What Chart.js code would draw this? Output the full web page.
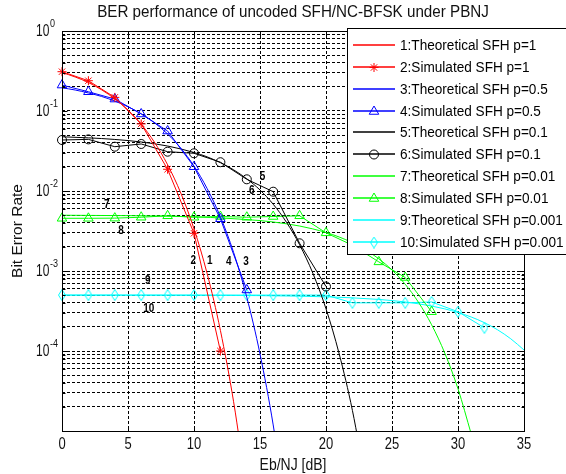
<!DOCTYPE html>
<html lang="en">
<head>
<meta charset="UTF-8" />
<title>BER performance of uncoded SFH/NC-BFSK under PBNJ</title>
<script src="https://cdn.jsdelivr.net/npm/chart.js"></script>
<style>
  html, body { margin: 0; padding: 0; background: #fff; }
  #wrap { width: 566px; height: 474px; }
</style>
</head>
<body>
<div id="wrap"><canvas id="berChart" width="566" height="474"></canvas></div>
<script>
  // simulated points (Eb/NJ in dB, BER)
  const simX1 = [0, 2, 4, 6, 8, 10, 12];
  const simBer1 = [0.31, 0.239, 0.148, 0.069, 0.0187, 0.00296, 0.0001];
  const simX05 = [0, 2, 4, 6, 8, 10, 12, 14];
  const simBer05 = [0.211, 0.174, 0.141, 0.0918, 0.0562, 0.0201, 0.0045, 0.00058];
  const simX01 = [0, 2, 4, 6, 8, 10, 12, 14, 16, 18, 20];
  const simBer01 = [0.0434, 0.0442, 0.0358, 0.0387, 0.031, 0.0296, 0.0229, 0.014, 0.0098, 0.00222, 0.00064];
  const simX001 = [0, 2, 4, 6, 8, 10, 12, 14, 16, 18, 20, 22, 24, 26, 28];
  const simBer001 = [0.00456, 0.00456, 0.00458, 0.0047, 0.0049, 0.0047, 0.0048, 0.0047, 0.0048, 0.0049, 0.003, 0.0021, 0.0013, 0.00083, 0.00031];
  const simX0001 = [0, 2, 4, 6, 8, 10, 12, 14, 16, 18, 20, 22, 24, 26, 28, 30, 32];
  const simBer0001 = [0.0005, 0.0005, 0.0005, 0.0005, 0.0005, 0.0005, 0.0005, 0.0005, 0.0005, 0.0005, 0.0005, 0.0004, 0.0004, 0.0004, 0.00041, 0.00031, 0.000195];

  // theoretical curves
  const thX1 = [0, 1, 2, 3, 4, 5, 6, 7, 8, 9, 10, 11, 12, 13, 14];
  const thBer1 = [0.303, 0.266, 0.227, 0.184, 0.142, 0.103, 0.0683, 0.0408, 0.0213, 0.00942, 0.00337, 0.000923, 0.000181, 0.0000232, 0.00000175];
  const thX05 = [0, 1, 2, 3, 4, 5, 6, 7, 8, 9, 10, 11, 12, 13, 14, 15, 16, 17];
  const thBer05 = [0.195, 0.183, 0.168, 0.152, 0.133, 0.113, 0.0924, 0.0714, 0.0516, 0.0343, 0.0205, 0.0107, 0.00476, 0.00171, 0.000469, 0.000092, 0.0000119, 0.0000009];
  const thX01 = [0, 2, 4, 6, 8, 10, 11, 12, 13, 14, 15, 16, 17, 18, 19, 20, 21, 22, 23];
  const thBer01 = [0.0476, 0.0462, 0.0441, 0.041, 0.0365, 0.0303, 0.0267, 0.0226, 0.0184, 0.0142, 0.0103, 0.00683, 0.00408, 0.00213, 0.000942, 0.000337, 0.000092, 0.0000181, 0.0000023];
  const thX001 = [0, 5, 10, 15, 16, 17, 18, 19, 20, 21, 22, 23, 24, 25, 26, 27, 28, 29, 30, 31];
  const thBer001 = [0.00498, 0.00492, 0.00476, 0.00427, 0.0041, 0.00389, 0.00365, 0.00336, 0.00303, 0.00266, 0.00226, 0.00184, 0.00142, 0.00103, 0.000683, 0.000408, 0.000213, 0.000094, 0.0000337, 0.0000092];
  const thX0001 = [0, 10, 20, 22, 24, 25, 26, 27, 28, 29, 30, 31, 32, 33, 34, 35];
  const thBer0001 = [0.0005, 0.000498, 0.000476, 0.000462, 0.000441, 0.000427, 0.00041, 0.000389, 0.000365, 0.000336, 0.000303, 0.000266, 0.000226, 0.000184, 0.000142, 0.000103];

  const seriesLabels = [
    '1:Theoretical SFH p=1', '2:Simulated SFH p=1',
    '3:Theoretical SFH p=0.5', '4:Simulated SFH p=0.5',
    '5:Theoretical SFH p=0.1', '6:Simulated SFH p=0.1',
    '7:Theoretical SFH p=0.01', '8:Simulated SFH p=0.01',
    '9:Theoretical SFH p=0.001', '10:Simulated SFH p=0.001'
  ];

  // curve number tags placed in the plot
  const tagText = ['1', '2', '3', '4', '5', '6', '7', '8', '9', '10'];
  const tagX = [11.2, 9.95, 13.95, 12.64, 15.2, 14.38, 3.39, 4.47, 6.5, 6.57];
  const tagY = [0.00137, 0.00137, 0.00133, 0.00131, 0.0151, 0.0103, 0.00688, 0.00319, 0.00077, 0.000342];

  const xTicks = [0, 5, 10, 15, 20, 25, 30, 35];
  const yDecades = [1e-5, 1e-4, 1e-3, 1e-2, 1e-1, 1];

  // minor grid: 1..9 in every decade
  const yGrid = [];
  yDecades.slice(0, -1).forEach(d => { for (let m = 1; m < 10; m++) yGrid.push(d * m); });
  yGrid.push(1);

  const FONT = '"Liberation Sans", Arial, sans-serif';

  function pts(xs, ys) {
    return xs.map((x, i) => ({ x: x, y: ys[i] }));
  }

  function diamondMarker(color, w, h) {
    const c = document.createElement('canvas');
    c.width = w; c.height = h;
    const g = c.getContext('2d');
    g.strokeStyle = color;
    g.lineWidth = 1;
    g.beginPath();
    g.moveTo(w / 2, 0.5);
    g.lineTo(w - 0.5, h / 2);
    g.lineTo(w / 2, h - 0.5);
    g.lineTo(0.5, h / 2);
    g.closePath();
    g.stroke();
    return c;
  }

  function theory(label, color, xs, ys) {
    return {
      label: label, data: pts(xs, ys),
      borderColor: color, borderWidth: 1, pointRadius: 0,
      cubicInterpolationMode: 'monotone', fill: false
    };
  }

  function simulated(label, color, xs, ys, style, radius) {
    return {
      label: label, data: pts(xs, ys),
      borderColor: color, borderWidth: 1, tension: 0, fill: false,
      pointStyle: style, pointRadius: radius, pointBorderColor: color,
      pointBackgroundColor: 'rgba(0,0,0,0)', pointBorderWidth: 1,
      clip: false
    };
  }

  const datasets = [
    theory(seriesLabels[0], '#ff0000', thX1, thBer1),
    simulated(seriesLabels[1], '#ff0000', simX1, simBer1, 'star', 4.5),
    theory(seriesLabels[2], '#0000ff', thX05, thBer05),
    simulated(seriesLabels[3], '#0000ff', simX05, simBer05, 'triangle', 5.5),
    theory(seriesLabels[4], '#000000', thX01, thBer01),
    simulated(seriesLabels[5], '#000000', simX01, simBer01, 'circle', 4.5),
    theory(seriesLabels[6], '#00ff00', thX001, thBer001),
    simulated(seriesLabels[7], '#00ff00', simX001, simBer001, 'triangle', 5.5),
    theory(seriesLabels[8], '#00ffff', thX0001, thBer0001),
    simulated(seriesLabels[9], '#00ffff', simX0001, simBer0001, diamondMarker('#00ffff', 8, 12), 5)
  ];

  function marker(ctx, ds, x, y) {
    if (!ds.pointRadius) return;
    ctx.strokeStyle = ds.borderColor;
    ctx.fillStyle = 'rgba(0,0,0,0)';
    ctx.lineWidth = 1;
    if (Chart.helpers && Chart.helpers.drawPoint) {
      Chart.helpers.drawPoint(ctx, { pointStyle: ds.pointStyle, radius: ds.pointRadius, borderWidth: 1, rotation: 0 }, x, y);
    }
  }

  // the reference text is tall and narrow, so stretch it a little vertically
  function text(ctx, str, x, y, font, sy, align) {
    ctx.save();
    ctx.font = font;
    ctx.textAlign = align || 'center';
    ctx.textBaseline = 'middle';
    ctx.translate(x, y);
    ctx.scale(1, sy);
    ctx.fillText(str, 0, 0);
    ctx.restore();
  }

  const decor = {
    id: 'decor',
    afterDatasetsDraw(chart) {
      const { ctx, chartArea: a } = chart;
      const xs = chart.scales.x, ys = chart.scales.y;
      const L = Math.round(a.left) + 0.5, R = Math.round(a.right) + 0.5;
      const T = Math.round(a.top) + 0.5, B = Math.round(a.bottom) + 0.5;
      ctx.save();
      ctx.setLineDash([]);

      // axes box and inner tick marks
      ctx.strokeStyle = '#000';
      ctx.lineWidth = 1;
      ctx.strokeRect(L, T, R - L, B - T);
      ctx.beginPath();
      xTicks.forEach(v => {
        const px = Math.round(xs.getPixelForValue(v)) + 0.5;
        ctx.moveTo(px, B); ctx.lineTo(px, B - 5);
        ctx.moveTo(px, T); ctx.lineTo(px, T + 5);
      });
      yGrid.forEach(v => {
        const py = Math.round(ys.getPixelForValue(v)) + 0.5;
        const len = yDecades.includes(v) ? 5 : 3;
        ctx.moveTo(L, py); ctx.lineTo(L + len, py);
        ctx.moveTo(R, py); ctx.lineTo(R - len, py);
      });
      ctx.stroke();

      // curve number tags
      ctx.fillStyle = '#000';
      tagText.forEach((t, i) => text(ctx, t, xs.getPixelForValue(tagX[i]), ys.getPixelForValue(tagY[i]), 'bold 10px ' + FONT, 1.3));

      // x tick labels
      ctx.fillStyle = '#111';
      xTicks.forEach(v => text(ctx, String(v), xs.getPixelForValue(v), a.bottom + 14, '13px ' + FONT, 1.25));

      // y tick labels 10^n
      yDecades.forEach(v => {
        const e = Math.round(Math.log10(v));
        if (e === -5) return;
        const py = ys.getPixelForValue(v);
        text(ctx, '10', 36, py + 1, '12px ' + FONT, 1.3, 'left');
        text(ctx, String(e), 50, py - 7, '9px ' + FONT, 1.25, 'left');
      });

      // axis titles and title
      text(ctx, 'Eb/NJ [dB]', (a.left + a.right) / 2, 466, '14px ' + FONT, 1.15);
      text(ctx, 'BER performance of uncoded SFH/NC-BFSK under PBNJ', (a.left + a.right) / 2, 13, '15.2px ' + FONT, 1.05);
      ctx.save();
      ctx.translate(18, (a.top + a.bottom) / 2);
      ctx.rotate(-Math.PI / 2);
      text(ctx, 'Bit Error Rate', 0, 0, '15.5px ' + FONT, 1.0);
      ctx.restore();

      // legend box
      const lx = 347, ly = 28, lh = 226;
      ctx.fillStyle = '#fff';
      ctx.fillRect(lx, ly, 260, lh);
      ctx.strokeStyle = '#000';
      ctx.strokeRect(lx + 0.5, ly + 0.5, 260, lh);
      chart.data.datasets.forEach((ds, i) => {
        const cy = Math.round(45 + i * 21.85);
        ctx.strokeStyle = ds.borderColor;
        ctx.lineWidth = 1.3;
        ctx.beginPath();
        ctx.moveTo(353, cy);
        ctx.lineTo(395, cy);
        ctx.stroke();
        marker(ctx, ds, 374, cy + 0.5);
        ctx.fillStyle = '#000';
        text(ctx, ds.label, 400, cy + 0.5, '13.6px ' + FONT, 1.08, 'left');
      });
      ctx.restore();
    }
  };

  const gridStyle = { color: '#000', lineWidth: 1, drawTicks: false };

  new Chart(document.getElementById('berChart').getContext('2d'), {
    type: 'line',
    data: { datasets: datasets },
    options: {
      responsive: false,
      animation: false,
      devicePixelRatio: 1,
      layout: { padding: { left: 62, right: 42, top: 31, bottom: 43 } },
      plugins: {
        legend: { display: false },
        title: { display: false },
        tooltip: { enabled: false }
      },
      scales: {
        x: {
          type: 'linear', min: 0, max: 35,
          ticks: { display: false, stepSize: 5 },
          grid: gridStyle,
          border: { display: false, dash: [3, 2] }
        },
        y: {
          type: 'logarithmic', min: 1e-5, max: 1,
          afterBuildTicks: s => { s.ticks = yGrid.map(v => ({ value: v })); },
          ticks: { display: false },
          grid: gridStyle,
          border: { display: false, dash: [3, 2] }
        }
      }
    },
    plugins: [decor]
  });
</script>
</body>
</html>
